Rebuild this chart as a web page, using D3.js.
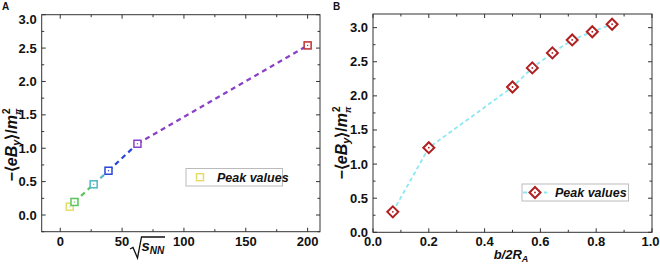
<!DOCTYPE html>
<html>
<head>
<meta charset="utf-8">
<script src="https://cdn.jsdelivr.net/npm/d3@7.9.0/dist/d3.min.js"></script>
<style>
  body { margin: 0; background: #fff; }
  svg text { font-family: "Liberation Sans", Arial, sans-serif; font-weight: bold; fill: #111; }
</style>
</head>
<body>
<svg id="chart" width="660" height="265"></svg>
<script>
// panel A: peak field vs collision energy
const energyA = [7.7, 11.5, 27, 39, 62.4, 200];
const peakA = [0.124, 0.195, 0.46, 0.663, 1.067, 2.54];
const colorsA = ["#e6dc6a", "#5cc45c", "#4cb8c8", "#2a46d8", "#8a40c8", "#c03030"];

// panel B: peak field vs impact parameter
const impactB = [0.071, 0.2, 0.5, 0.571, 0.643, 0.714, 0.786, 0.857];
const peakB = [0.30, 1.24, 2.13, 2.41, 2.63, 2.82, 2.94, 3.05];

const ticksAx = [0, 50, 100, 150, 200];
const ticksAy = [0, 0.5, 1, 1.5, 2, 2.5, 3];
const ticksBx = [0, 0.2, 0.4, 0.6, 0.8, 1];
const ticksBy = [0, 0.5, 1, 1.5, 2, 2.5, 3];

const svg = d3.select("#chart");

function frame(g, x, y, majX, minX, majY, minY, fmtX, fmtY) {
    const [x0, x1] = x.range();
    const [y0, y1] = y.range();
    g.append("rect")
        .attr("x", x0).attr("y", y1)
        .attr("width", x1 - x0).attr("height", y0 - y1)
        .attr("fill", "none").attr("stroke", "#333").attr("stroke-width", 1);

    const tk = g.append("g").attr("stroke", "#333").attr("stroke-width", 1);
    const addX = (vals, len) => vals.forEach(v => {
        tk.append("line").attr("x1", x(v)).attr("x2", x(v)).attr("y1", y0).attr("y2", y0 - len);
        tk.append("line").attr("x1", x(v)).attr("x2", x(v)).attr("y1", y1).attr("y2", y1 + len);
    });
    const addY = (vals, len) => vals.forEach(v => {
        tk.append("line").attr("y1", y(v)).attr("y2", y(v)).attr("x1", x0).attr("x2", x0 + len);
        tk.append("line").attr("y1", y(v)).attr("y2", y(v)).attr("x1", x1).attr("x2", x1 - len);
    });
    addX(majX, 4); addX(minX, 2.5);
    addY(majY, 4); addY(minY, 2.5);

    const xl = g.selectAll(".xl").data(majX).join("text")
        .attr("x", d => x(d)).attr("y", 246)
        .attr("text-anchor", "middle").style("font-size", "13px")
        .text(fmtX);
    const yl = g.selectAll(".yl").data(majY).join("text")
        .attr("x", x0 - 5).attr("y", d => y(d) + 4.5)
        .attr("text-anchor", "end").style("font-size", "13px")
        .text(fmtY);
    return { xl, yl };
}

function yTitle(g, cx, cy) {
    const t = g.append("text")
        .attr("transform", `translate(${cx},${cy}) rotate(-90)`)
        .attr("text-anchor", "middle")
        .style("font-size", "16px");
    t.append("tspan").text("\u2212\u27E8");
    t.append("tspan").style("font-style", "italic").text("eB");
    t.append("tspan").style("font-style", "italic").style("font-size", "11px").attr("dy", 3).text("y");
    t.append("tspan").attr("dy", -3).text("\u27E9/");
    t.append("tspan").style("font-style", "italic").text("m");
    t.append("tspan").style("font-style", "italic").style("font-size", "9px").attr("dy", 4).text("\u03C0");
    t.append("tspan").style("font-size", "10px").attr("dy", -11).attr("dx", -5.5).text("2");
}

// ---------- Panel A ----------
const xA = d3.scaleLinear().domain([-15, 210]).range([41.7, 320]);
const yA = d3.scaleLinear().domain([-0.25, 3.0]).range([231.7, 14.7]);
const gA = svg.append("g");

const labA = frame(gA, xA, yA, ticksAx, [25, 75, 125, 175], ticksAy,
    [-0.25, 0.25, 0.75, 1.25, 1.75, 2.25, 2.75],
    d => d, d => d.toFixed(1));
labA.yl.filter(d => d === 3).attr("y", d => yA(d) + 9);

// dashed segments coloured by the starting point
d3.pairs(d3.range(energyA.length)).forEach(([i, j]) => {
    gA.append("line")
        .attr("x1", xA(energyA[i])).attr("y1", yA(peakA[i]))
        .attr("x2", xA(energyA[j])).attr("y2", yA(peakA[j]))
        .attr("stroke", colorsA[i === 0 ? 1 : i]).attr("stroke-width", 2.2)
        .attr("stroke-dasharray", "5,4");
});

const sq = gA.selectAll(".sq").data(energyA).join("g")
    .attr("transform", (d, i) => `translate(${xA(d)},${yA(peakA[i])})`);
sq.append("rect").attr("x", -3.5).attr("y", -3.5).attr("width", 7).attr("height", 7)
    .attr("fill", "white").attr("stroke", (d, i) => colorsA[i]).attr("stroke-width", 1.5);
sq.append("rect").attr("x", -0.6).attr("y", -0.6).attr("width", 1.2).attr("height", 1.2)
    .attr("fill", (d, i) => colorsA[i]);

// legend A
const legA = gA.append("g").attr("transform", "translate(186,168.5)");
legA.append("rect").attr("width", 96.5).attr("height", 17.5)
    .attr("fill", "white").attr("stroke", "#bbb").attr("stroke-width", 1);
legA.append("rect").attr("x", 10.5).attr("y", 5.2).attr("width", 7).attr("height", 7)
    .attr("fill", "white").attr("stroke", colorsA[0]).attr("stroke-width", 1.5);
legA.append("text").attr("x", 31).attr("y", 13.2)
    .style("font-size", "12.5px").style("font-style", "italic").text("Peak values");

// x title A: sqrt(s_NN)
gA.append("path")
    .attr("d", "M130,249 L133,247.5 L137.5,258 L141.5,237 L165,237")
    .attr("fill", "none").attr("stroke", "#111").attr("stroke-width", 1.3);
const tA = gA.append("text").attr("x", 141.5).attr("y", 251).style("font-size", "15px").style("font-style", "italic");
tA.append("tspan").text("s");
tA.append("tspan").attr("dy", 3).style("font-size", "10px").text("NN");

yTitle(gA, 16.5, 145);
svg.append("text").attr("x", 2).attr("y", 10).style("font-size", "10px").text("A");

// ---------- Panel B ----------
const xB = d3.scaleLinear().domain([0, 1]).range([373, 652]);
const yB = d3.scaleLinear().domain([0, 3.2]).range([232.3, 14]);
const gB = svg.append("g");

const labB = frame(gB, xB, yB, ticksBx, [0.1, 0.3, 0.5, 0.7, 0.9], ticksBy,
    [0.25, 0.75, 1.25, 1.75, 2.25, 2.75],
    d => d.toFixed(1), d => d.toFixed(1));
labB.xl.filter(d => d === 1).attr("x", d => xB(d) - 1.5);

const line = d3.line().x((d, i) => xB(d)).y((d, i) => yB(peakB[i]));
gB.append("path").datum(impactB).attr("d", line)
    .attr("fill", "none").attr("stroke", "#8ae8f2").attr("stroke-width", 1.8)
    .attr("stroke-dasharray", "4,3");

const dia = gB.selectAll(".dia").data(impactB).join("g")
    .attr("transform", (d, i) => `translate(${xB(d)},${yB(peakB[i])})`);
dia.append("path").attr("d", "M0,-5.5 L5.5,0 L0,5.5 L-5.5,0 Z")
    .attr("fill", "white").attr("stroke", "#b02020").attr("stroke-width", 2);
dia.append("circle").attr("r", 0.9).attr("fill", "#b02020");

// legend B
const legB = gB.append("g").attr("transform", "translate(522,184)");
legB.append("rect").attr("width", 106.5).attr("height", 17)
    .attr("fill", "white").attr("stroke", "#bbb").attr("stroke-width", 1);
legB.append("line").attr("x1", 1).attr("x2", 25).attr("y1", 8.5).attr("y2", 8.5)
    .attr("stroke", "#8ae8f2").attr("stroke-width", 1.8).attr("stroke-dasharray", "4,3");
legB.append("path").attr("d", "M13,3 L18.5,8.5 L13,14 L7.5,8.5 Z")
    .attr("fill", "white").attr("stroke", "#b02020").attr("stroke-width", 2);
legB.append("circle").attr("cx", 13).attr("cy", 8.5).attr("r", 0.9).attr("fill", "#b02020");
legB.append("text").attr("x", 33).attr("y", 13)
    .style("font-size", "12.5px").style("font-style", "italic").text("Peak values");

// x title B
const tB = gB.append("text").attr("x", 511).attr("y", 259).attr("text-anchor", "middle")
    .style("font-size", "13px").style("font-style", "italic");
tB.append("tspan").text("b/2R");
tB.append("tspan").attr("dy", 3).style("font-size", "9px").text("A");

yTitle(gB, 346.5, 143);
svg.append("text").attr("x", 333).attr("y", 10).style("font-size", "10px").text("B");
</script>
</body>
</html>
